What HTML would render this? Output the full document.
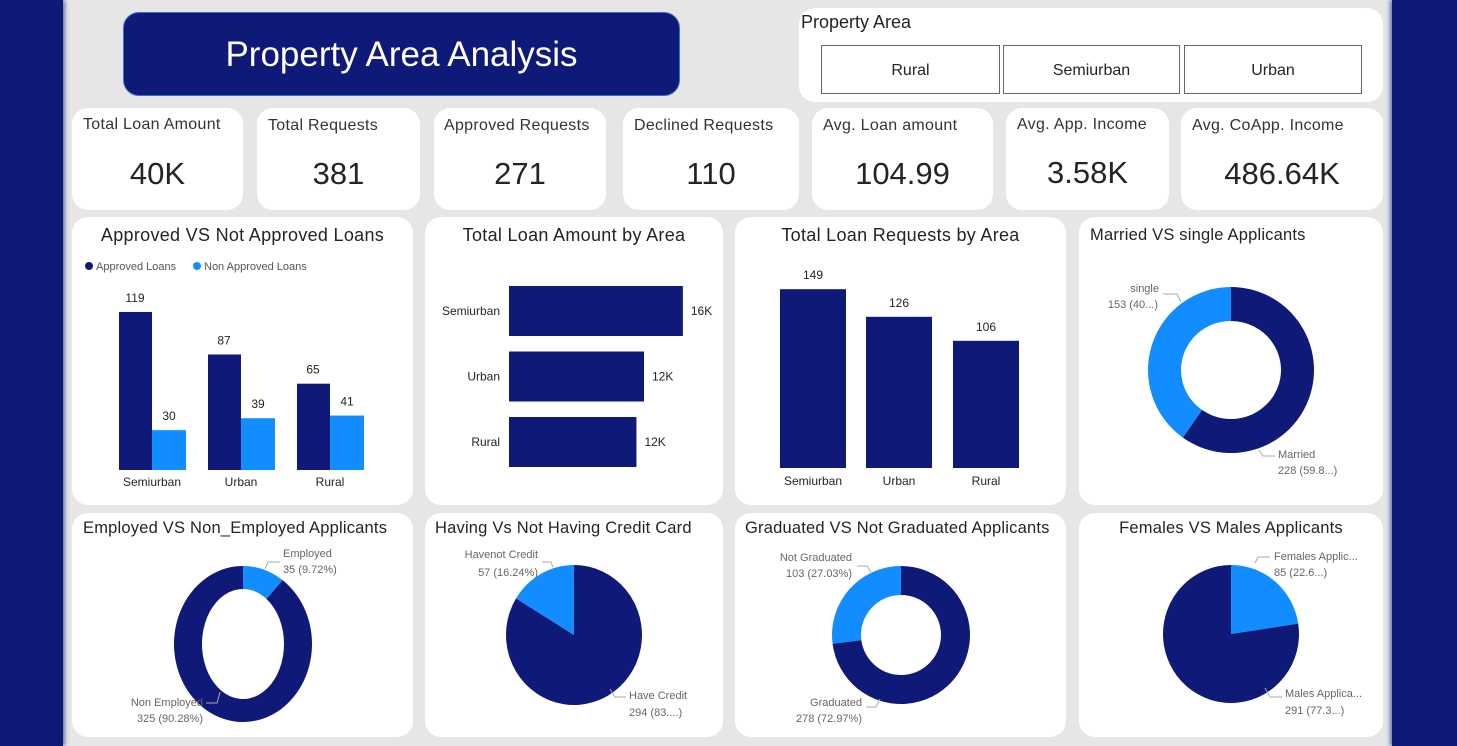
<!DOCTYPE html>
<html><head><meta charset="utf-8">
<style>
*{box-sizing:border-box;margin:0;padding:0}
body{width:1457px;height:746px;overflow:hidden;background:#e6e6e6;font-family:"Liberation Sans",sans-serif;position:relative;color:#252423}
.side{position:absolute;top:0;height:746px;background:#0f1a78}
.card{position:absolute;background:#fff;border-radius:16px}
.kt{position:absolute;left:0;right:0;font-size:16px;color:#333;letter-spacing:0.3px;white-space:nowrap}
.kv{position:absolute;left:0;right:0;text-align:center;font-size:31px;color:#252423}
.ct{position:absolute;left:0;right:0;text-align:center;font-size:18px;color:#252423;top:8px;letter-spacing:0.3px;white-space:nowrap}
.ct2{font-size:16.5px;letter-spacing:0.2px}
.btn{position:absolute;top:37px;height:49px;border:1px solid #666;background:#fff;text-align:center;line-height:49px;font-size:16px;color:#252423}
svg{position:absolute;left:0;top:0}
</style></head><body>
<div class="side" style="left:0;width:63px;box-shadow:2px 0 4px #6670b0"></div>
<div class="side" style="left:1392px;width:65px;box-shadow:-2px 0 4px #6670b0"></div>

<div style="position:absolute;left:123px;top:12px;width:557px;height:84px;background:#0f1a78;border:1px solid #3a6fd0;border-radius:16px;color:#fff;font-size:35px;text-align:center;line-height:84px">Property Area Analysis</div>

<div class="card" style="left:799px;top:8px;width:584px;height:94px">
<div style="position:absolute;left:2px;top:4px;font-size:18px">Property Area</div>
<div class="btn" style="left:22px;width:179px">Rural</div>
<div class="btn" style="left:204px;width:177px">Semiurban</div>
<div class="btn" style="left:385px;width:178px">Urban</div>
</div>

<div class="card" style="left:72px;top:108px;width:171px;height:102px"><div class="kt" style="top:8px;left:11px">Total Loan Amount</div><div class="kv" style="top:48px">40K</div></div>
<div class="card" style="left:257px;top:108px;width:163px;height:102px"><div class="kt" style="top:9px;left:11px">Total Requests</div><div class="kv" style="top:48px">381</div></div>
<div class="card" style="left:434px;top:108px;width:172px;height:102px"><div class="kt" style="top:9px;left:10px">Approved Requests</div><div class="kv" style="top:48px">271</div></div>
<div class="card" style="left:623px;top:108px;width:176px;height:102px"><div class="kt" style="top:9px;left:11px">Declined Requests</div><div class="kv" style="top:48px">110</div></div>
<div class="card" style="left:812px;top:108px;width:181px;height:102px"><div class="kt" style="top:9px;left:11px">Avg. Loan amount</div><div class="kv" style="top:48px">104.99</div></div>
<div class="card" style="left:1006px;top:108px;width:163px;height:102px"><div class="kt" style="top:8px;left:11px">Avg. App. Income</div><div class="kv" style="top:47px">3.58K</div></div>
<div class="card" style="left:1181px;top:108px;width:202px;height:102px"><div class="kt" style="top:9px;left:11px">Avg. CoApp. Income</div><div class="kv" style="top:48px">486.64K</div></div>

<div class="card" style="left:72px;top:217px;width:341px;height:288px"><div class="ct">Approved VS Not Approved Loans</div></div>
<div class="card" style="left:425px;top:217px;width:298px;height:288px"><div class="ct">Total Loan Amount by Area</div></div>
<div class="card" style="left:735px;top:217px;width:331px;height:288px"><div class="ct">Total Loan Requests by Area</div></div>
<div class="card" style="left:1079px;top:217px;width:304px;height:288px"><div class="ct ct2" style="text-align:left;left:11px;top:9px">Married VS single Applicants</div></div>
<div class="card" style="left:72px;top:513px;width:341px;height:224px"><div class="ct ct2" style="text-align:left;left:11px;top:6px">Employed VS Non_Employed Applicants</div></div>
<div class="card" style="left:425px;top:513px;width:298px;height:224px"><div class="ct ct2" style="text-align:left;left:10px;top:6px">Having Vs Not Having Credit Card</div></div>
<div class="card" style="left:735px;top:513px;width:331px;height:224px"><div class="ct ct2" style="text-align:left;left:10px;top:6px">Graduated VS Not Graduated Applicants</div></div>
<div class="card" style="left:1079px;top:513px;width:304px;height:224px"><div class="ct ct2" style="top:6px">Females VS Males Applicants</div></div>

<svg id="s" width="1457" height="746"></svg>

<script>
const NAVY='#0f1a78', LIGHT='#118dff';
// chart 1 data
const c1Cats=['Semiurban','Urban','Rural'];
const c1Approved=[119,87,65];
const c1Declined=[30,39,41];
// chart 2 data
const c2Cats=['Semiurban','Urban','Rural'];
const c2Amount=[16.1,12.5,11.8];
const c2Labels=['16K','12K','12K'];
// chart 3 data
const c3Cats=['Semiurban','Urban','Rural'];
const c3Requests=[149,126,106];
// pie data
const marriedVals=[228,153];
const employedVals=[35,325];
const creditVals=[294,57];
const gradVals=[278,103];
const genderVals=[85,291];

const svg=document.getElementById('s');
const NS='http://www.w3.org/2000/svg';
function el(t,a,txt){const e=document.createElementNS(NS,t);for(const k in a)e.setAttribute(k,a[k]);if(txt!==undefined)e.textContent=txt;svg.appendChild(e);return e;}
function txt(x,y,s,anchor,name,size,fill){const e=el('text',{x:x,y:y,'text-anchor':anchor||'middle','font-size':size||12,fill:fill||'#252423','font-family':'Liberation Sans, sans-serif'},s);


return e;}

// Chart 1
const y1=v=>470-v*1.328;
const c1Centers=[152,241,330];
el('circle',{cx:89,cy:266,r:4,fill:NAVY});
txt(96,270,'Approved Loans','start','legend-approved',11,'#555');
el('circle',{cx:197,cy:266,r:4,fill:LIGHT});
txt(204,270,'Non Approved Loans','start','legend-non-approved',11,'#555');
c1Cats.forEach((c,i)=>{
  const cx=c1Centers[i];
  const b1=el('rect',{x:cx-33,y:y1(c1Approved[i]),width:33,height:470-y1(c1Approved[i]),fill:NAVY});
  
  
  const b2=el('rect',{x:cx,y:y1(c1Declined[i]),width:34,height:470-y1(c1Declined[i]),fill:LIGHT});
  
  
  txt(cx-17,y1(c1Approved[i])-10,c1Approved[i],'middle','label-approved',12);
  txt(cx+17,y1(c1Declined[i])-10,c1Declined[i],'middle','label-declined',12);
  txt(cx,486,c,'middle','x-label',12);
});
// Chart 2
const x2=v=>509+v*10.8;
c2Cats.forEach((c,i)=>{
  const y=286+i*65.5;
  const b=el('rect',{x:509,y:y,width:x2(c2Amount[i])-509,height:50,fill:NAVY});
  
  
  txt(500,y+29,c,'end','y-label',12);
  txt(x2(c2Amount[i])+8,y+29,c2Labels[i],'start','value-label',12);
});
// Chart 3
const y3=v=>468-v*1.2;
const c3X=[780,866,953];
c3Cats.forEach((c,i)=>{
  const b=el('rect',{x:c3X[i],y:y3(c3Requests[i]),width:66,height:468-y3(c3Requests[i]),fill:NAVY});
  
  
  txt(c3X[i]+33,y3(c3Requests[i])-10,c3Requests[i],'middle','value-label',12);
  txt(c3X[i]+33,485,c,'middle','x-label',12);
});

function arcPath(cx,cy,rx,ry,irx,iry,a0,a1){
  const p=(a,x,y)=>[cx+x*Math.sin(a),cy-y*Math.cos(a)];
  const large=(a1-a0)>Math.PI?1:0;
  const [ox0,oy0]=p(a0,rx,ry),[ox1,oy1]=p(a1,rx,ry);
  if(!irx) return `M${cx},${cy}L${ox0},${oy0}A${rx},${ry} 0 ${large} 1 ${ox1},${oy1}Z`;
  const [ix0,iy0]=p(a0,irx,iry),[ix1,iy1]=p(a1,irx,iry);
  return `M${ox0},${oy0}A${rx},${ry} 0 ${large} 1 ${ox1},${oy1}L${ix1},${iy1}A${irx},${iry} 0 ${large} 0 ${ix0},${iy0}Z`;
}
function pie(name,cx,cy,rx,ry,irx,iry,vals,colors){
  const tot=vals.reduce((a,b)=>a+b,0);let a=0;
  vals.forEach((v,i)=>{const a1=a+v/tot*2*Math.PI;
    const e=el('path',{d:arcPath(cx,cy,rx,ry,irx,iry,a,a1),fill:colors[i]});
    
    
    a=a1;});
}
function lead(pts){el('polyline',{points:pts,fill:'none',stroke:'#aaa','stroke-width':1});}

pie('married',1231,370,83,83,50,49,marriedVals,[NAVY,LIGHT]);
txt(1159,292,'single','end','single-label',11,'#666');txt(1158,308,'153 (40...)','end','single-value',11,'#666');
lead('1163,294 1177,294 1181,302');
txt(1278,458,'Married','start','married-label',11,'#666');txt(1278,474,'228 (59.8...)','start','married-value',11,'#666');
lead('1259,450 1263,456 1275,456');

pie('employed',243,644,69,78,41,55,employedVals,[LIGHT,NAVY]);
txt(283,557,'Employed','start','employed-label',11,'#666');txt(283,573,'35 (9.72%)','start','employed-value',11,'#666');
lead('265,569 268,562 280,562');
txt(203,706,'Non Employed','end','nonemployed-label',11,'#666');txt(203,722,'325 (90.28%)','end','nonemployed-value',11,'#666');
lead('220,692 217,703 206,703');

pie('credit',574,635,68,70,0,0,creditVals,[NAVY,LIGHT]);
txt(538,558,'Havenot Credit','end','havenot-label',11,'#666');txt(538,576,'57 (16.24%)','end','havenot-value',11,'#666');
lead('542,562 551,562 553,567');
txt(629,699,'Have Credit','start','have-label',11,'#666');txt(629,716,'294 (83....)','start','have-value',11,'#666');
lead('610,689 615,697 626,697');

pie('graduated',901,635,69,69,40,40,gradVals,[NAVY,LIGHT]);
txt(852,561,'Not Graduated','end','notgrad-label',11,'#666');txt(852,577,'103 (27.03%)','end','notgrad-value',11,'#666');
lead('857,566 867,566 871,572');
txt(862,706,'Graduated','end','grad-label',11,'#666');txt(862,722,'278 (72.97%)','end','grad-value',11,'#666');
lead('880,699 876,707 866,707');

pie('gender',1231,634,68,69,0,0,genderVals,[LIGHT,NAVY]);
txt(1274,560,'Females Applic...','start','female-label',11,'#666');txt(1274,576,'85 (22.6...)','start','female-value',11,'#666');
lead('1255,563 1258,557 1270,557');
txt(1285,697,'Males Applica...','start','male-label',11,'#666');txt(1285,714,'291 (77.3...)','start','male-value',11,'#666');
lead('1265,688 1270,697 1282,697');
</script>
</body></html>
